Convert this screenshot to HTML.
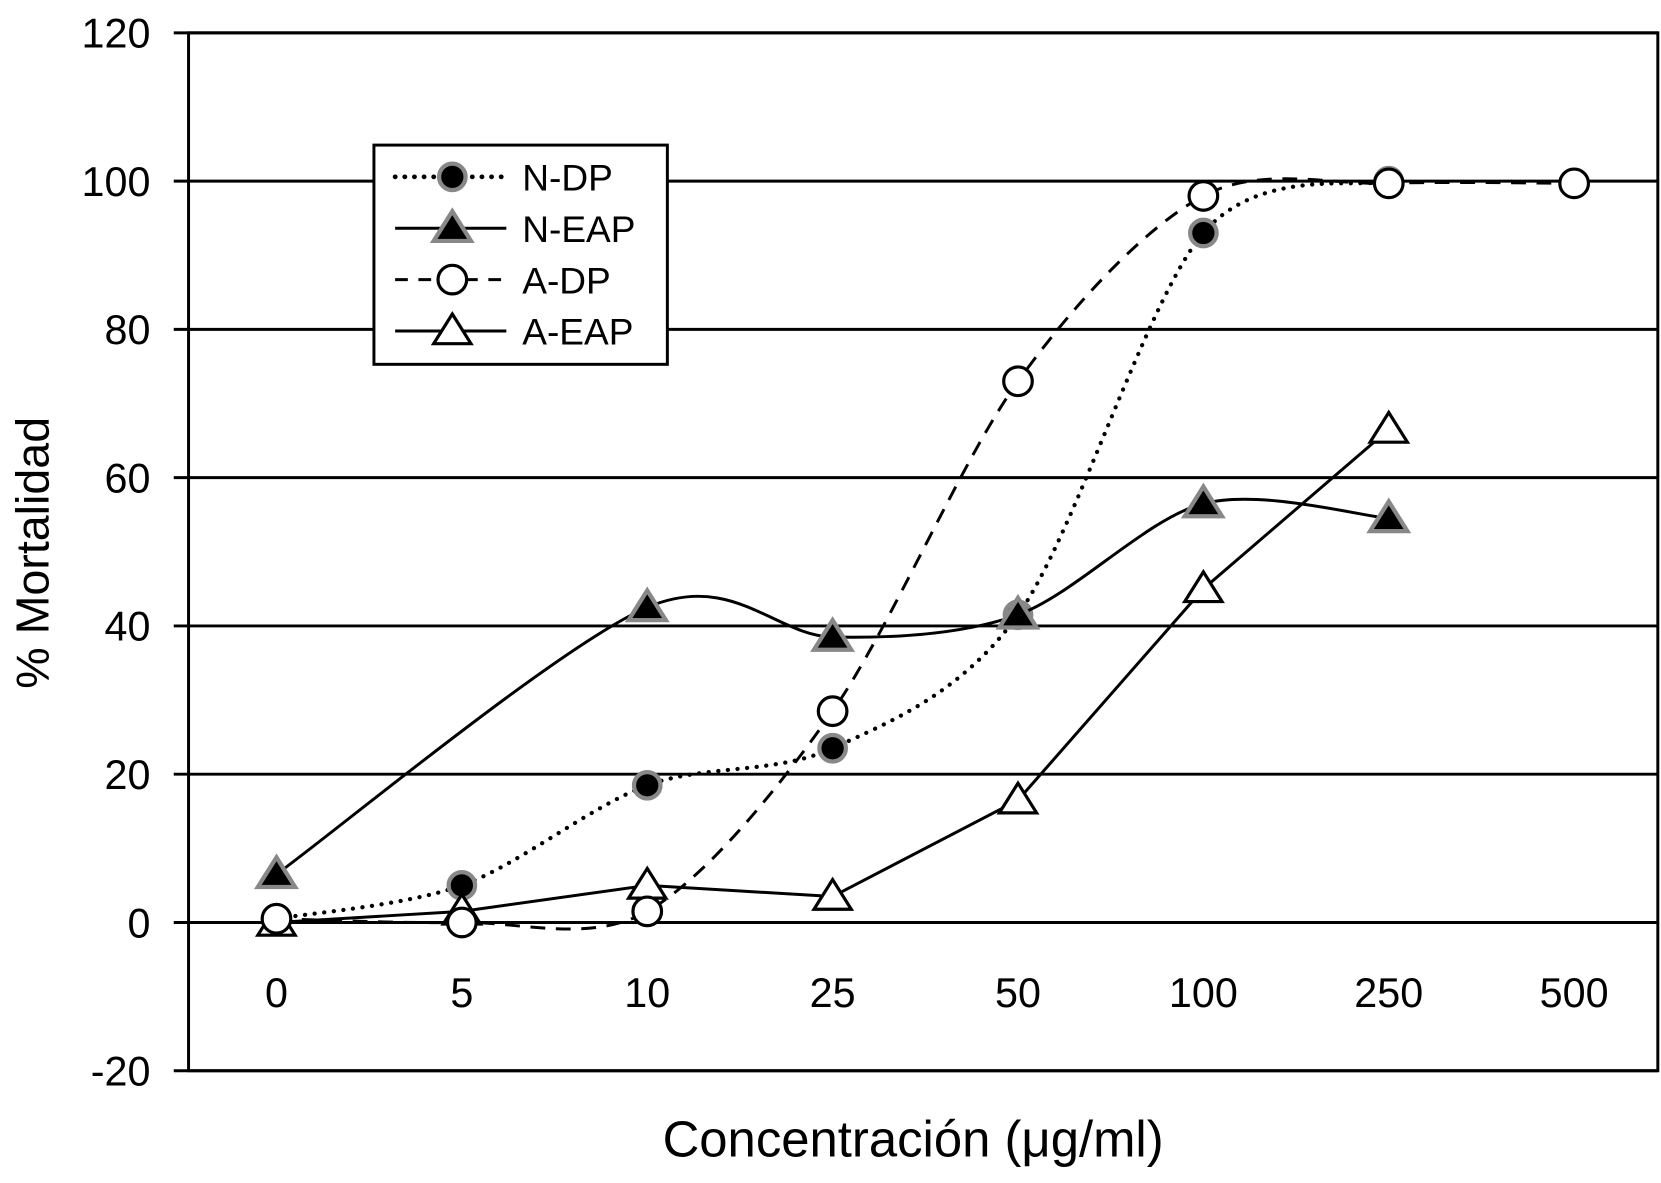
<!DOCTYPE html>
<html><head><meta charset="utf-8"><style>
html,body{margin:0;padding:0;background:#fff;}
svg{display:block;font-family:"Liberation Sans",Arial,sans-serif;}
</style></head><body>
<svg id="chart" width="1661" height="1183" viewBox="0 0 1568 1117" preserveAspectRatio="none" xmlns="http://www.w3.org/2000/svg">
<g id="grid"></g><g id="series"></g><g id="legend"></g>
<text x="862" y="1092" font-size="48" text-anchor="middle">Concentración (μg/ml)</text>
<text transform="translate(46,522) rotate(-90)" font-size="44" text-anchor="middle">% Mortalidad</text>
</svg>
<script>
const categories=["0","5","10","25","50","100","250","500"];
const yTicks=[120,100,80,60,40,20,0,-20];
const nDP=[0.5,5,18.5,23.5,41.5,93,100,null];
const nEAP=[6.5,null,42.5,38.5,41.5,56.5,54.5,null];
const aDP=[0.5,0,1.5,28.5,73,98,99.7,99.7];
const aEAP=[0,1.5,5,3.5,16.5,45,66.5,null];
const NS="http://www.w3.org/2000/svg";
const L=178,R=1565,T=31,B=1011;
const y=v=>871-v*7;
const x=i=>261+i*175;
function mk(t,a,p){const e=document.createElementNS(NS,t);for(const k in a)e.setAttribute(k,a[k]);(p||document.getElementById('chart')).appendChild(e);return e;}
const grid=document.getElementById('grid');
yTicks.forEach(v=>{
 const l=mk('line',{x1:L-14,x2:R,y1:y(v),y2:y(v),stroke:'#000','stroke-width':2.8},grid);
 
 
 const t=mk('text',{x:142,y:y(v)+14,'font-size':39,'text-anchor':'end'},grid);t.textContent=v;
 
 
});
const fr=mk('rect',{x:L,y:T,width:R-L,height:B-T,fill:'none',stroke:'#000','stroke-width':2.8},grid);


categories.forEach((c,i)=>{
 const t=mk('text',{x:x(i),y:951,'font-size':39,'text-anchor':'middle'},grid);t.textContent=c;
 
 
});
function pts(arr){const p=[];arr.forEach((v,i)=>{if(v!==null)p.push([x(i),y(v)]);});return p;}
function smooth(p){let d='M'+p[0][0]+','+p[0][1];for(let i=0;i<p.length-1;i++){const p0=p[i-1]||p[i],p1=p[i],p2=p[i+1],p3=p[i+2]||p2;const t=6.5;d+=' C'+(p1[0]+(p2[0]-p0[0])/t)+','+(p1[1]+(p2[1]-p0[1])/t)+' '+(p2[0]-(p3[0]-p1[0])/t)+','+(p2[1]-(p3[1]-p1[1])/t)+' '+p2[0]+','+p2[1];}return d;}
function straight(p){return 'M'+p.map(q=>q.join(',')).join(' L');}
function marker(kind,cx,cy,g){
 if(kind=='fc')return mk('circle',{cx,cy,r:12.5,fill:'#000',stroke:'#888','stroke-width':4},g);
 if(kind=='oc')return mk('circle',{cx,cy,r:13.5,fill:'#fff',stroke:'#000','stroke-width':3},g);
 const s=16;const pp=`${cx},${cy-s} ${cx+s*1.1},${cy+s*0.75} ${cx-s*1.1},${cy+s*0.75}`;
 if(kind=='ft')return mk('polygon',{points:pp,fill:'#000',stroke:'#888','stroke-width':4},g);
 return mk('polygon',{points:pp,fill:'#fff',stroke:'#000','stroke-width':3},g);
}
const series=[
 {name:'N-DP',data:nDP,m:'fc',dash:'3,8',sm:true},
 {name:'N-EAP',data:nEAP,m:'ft',dash:'',sm:true},
 {name:'A-EAP',data:aEAP,m:'ot',dash:'',sm:false},
 {name:'A-DP',data:aDP,m:'oc',dash:'14,10',sm:true}];
const sg=document.getElementById('series');
series.forEach(s=>{
 const g=mk('g',{},sg);
 
 
 const p=pts(s.data);
 const a={d:s.sm?smooth(p):straight(p),fill:'none',stroke:'#000','stroke-width':2.8};
 if(s.dash){a['stroke-dasharray']=s.dash;}
 if(s.m=='fc'){a['stroke-width']=4;a['stroke-linecap']='round';a['stroke-dasharray']='0.1,9';}
 mk('path',a,g);
 p.forEach(q=>{const e=marker(s.m,q[0],q[1],g);
  
  });
});
const lg=document.getElementById('legend');
const lb=mk('rect',{x:353,y:137,width:277,height:207,fill:'#fff',stroke:'#000','stroke-width':2.8},lg);


const order=[series[0],series[1],series[3],series[2]];
order.forEach((s,i)=>{
 const yy=167+i*48.5;
 const a={x1:373,x2:478,y1:yy,y2:yy,stroke:'#000','stroke-width':2.8};
 if(s.m=='fc'){a['stroke-width']=4.5;a['stroke-linecap']='round';a['stroke-dasharray']='0.1,9';}
 else if(s.dash)a['stroke-dasharray']='12,10';
 mk('line',a,lg);
 marker(s.m,427,yy,lg);
 const t=mk('text',{x:493,y:yy+13,'font-size':35},lg);t.textContent=s.name;
 
 
});
</script>
</body></html>
